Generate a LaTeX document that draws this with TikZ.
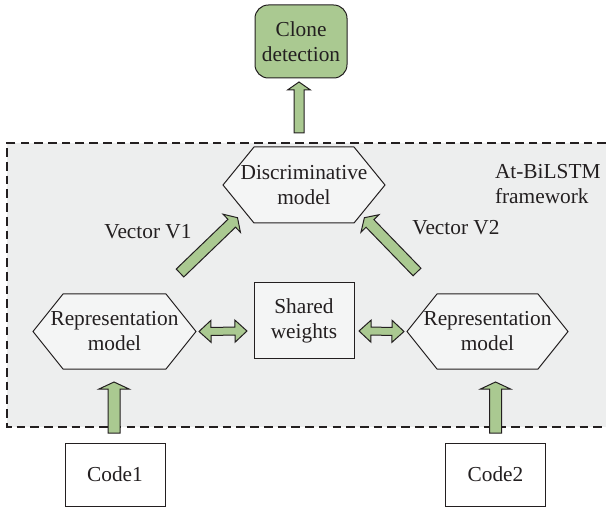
\documentclass[tikz,border=0pt]{standalone}
\usepackage{fontspec}
\setmainfont{Liberation Serif}
\usetikzlibrary{calc,backgrounds}
\definecolor{arrowgreen}{RGB}{170,201,145}
\definecolor{framegray}{RGB}{237,238,238}
\definecolor{boxgray}{RGB}{244,245,245}
\definecolor{inkc}{RGB}{35,31,32}

% start, tip, half shaft, half head, head length
\newcommand{\blockarrow}[5]{%
  \coordinate (ba-h) at ($(#2)!#5!(#1)$);
  \draw[arrowstyle] ($(#1)!#3!90:(#2)$) -- ($(ba-h)!#3!90:(#2)$) -- ($(ba-h)!#4!90:(#2)$) -- (#2)
    -- ($(ba-h)!#4!-90:(#2)$) -- ($(ba-h)!#3!-90:(#2)$) -- ($(#1)!#3!-90:(#2)$) -- cycle;
}
\newcommand{\doublearrow}[5]{%
  \coordinate (da-h1) at ($(#1)!#5!(#2)$);
  \coordinate (da-h2) at ($(#2)!#5!(#1)$);
  \draw[arrowstyle] (#1) -- ($(da-h1)!#4!90:(#2)$) -- ($(da-h1)!#3!90:(#2)$) -- ($(da-h2)!#3!90:(#2)$)
    -- ($(da-h2)!#4!90:(#2)$) -- (#2) -- ($(da-h2)!#4!-90:(#2)$) -- ($(da-h2)!#3!-90:(#2)$)
    -- ($(da-h1)!#3!-90:(#2)$) -- ($(da-h1)!#4!-90:(#2)$) -- cycle;
}
\newcommand{\hexshape}[2]{%
  \path[hexstyle] (#1.west) -- ($(#1.north west)+(#2,0)$) -- ($(#1.north east)+(-#2,0)$) -- (#1.east)
    -- ($(#1.south east)+(-#2,0)$) -- ($(#1.south west)+(#2,0)$) -- cycle;
}

\begin{document}
\begin{tikzpicture}[x=0.75pt,y=-0.75pt,
  font=\rmfamily\fontsize{16pt}{18.75pt}\selectfont, text=inkc,
  arrowstyle/.style={draw=inkc, fill=arrowgreen, line width=0.75pt, line join=miter},
  hexstyle/.style={draw=inkc, fill=boxgray, line width=0.75pt},
  hextext/.style={inner sep=0pt, outer sep=0pt, align=center},
  greenbox/.style={draw=inkc, fill=arrowgreen, rounded corners=10pt, line width=0.75pt,
    minimum width=69pt, minimum height=54.75pt, inner sep=0pt, outer sep=0pt, align=center},
  graybox/.style={draw=inkc, fill=boxgray, line width=0.75pt, minimum width=75pt,
    minimum height=56.25pt, inner sep=0pt, outer sep=0pt, align=center},
  whitebox/.style={draw=inkc, fill=white, line width=0.75pt, minimum width=75pt,
    minimum height=47.25pt, inner sep=0pt, outer sep=0pt, align=center},
  textlabel/.style={inner sep=0pt, outer sep=0pt}]
\useasboundingbox (0,0) rectangle (606,509);

\node[greenbox] (clone) at (301,41.5) {Clone\\detection};
\node[hextext, minimum width=121.5pt, minimum height=57pt] (disc) at (304,185) {Discriminative\\model};
\node[hextext, minimum width=122.25pt, minimum height=56.25pt] (rep1) at (114.5,331.5) {Representation\\model};
\node[hextext, minimum width=120.75pt, minimum height=56.25pt] (rep2) at (487.5,331.5) {Representation\\model};
\node[graybox] (shared) at (304,320.5) {Shared\\weights};
\node[whitebox] (code1) at (115,474.5) {Code1};
\node[whitebox] (code2) at (495.5,474.5) {Code2};
\node[textlabel] (v1) at (148,232) {Vector V1};
\node[textlabel] (v2) at (456,228) {Vector V2};
\node[textlabel, align=left, anchor=west] (fw) at (495,184.5) {At-BiLSTM\\framework};

\begin{scope}[on background layer]
  \fill[framegray] (7,143) rectangle (606,427);
  \draw[inkc, line width=0.9pt, dash pattern=on 6.5pt off 3.8pt] (606,143) -- (7,143) -- (7,427) -- (606,427);
  \hexshape{disc}{31}
  \hexshape{rep1}{30}
  \hexshape{rep2}{30}
\end{scope}

\coordinate (cloneTail) at (299,133);
\coordinate (cloneTip) at ($(clone.south)+(-2,4)$);
\blockarrow{cloneTail}{cloneTip}{3.75pt}{8.6pt}{6pt}

\coordinate (v1tail) at (180,273);
\coordinate (v1tip) at ($(disc.south west)+(14.5,-5.3)$);
\blockarrow{v1tail}{v1tip}{4.1pt}{9.4pt}{6pt}

\coordinate (v2tail) at (417,272);
\coordinate (v2tip) at ($(disc.south east)+(-20.6,-5.3)$);
\blockarrow{v2tail}{v2tip}{4.1pt}{9.4pt}{6pt}

\coordinate (r1tail) at ($(code1.north)+(-1,-10)$);
\coordinate (r1tip) at ($(rep1.south)+(-0.5,13)$);
\blockarrow{r1tail}{r1tip}{4.5pt}{11.25pt}{5.25pt}

\coordinate (r2tail) at ($(code2.north)+(0,-10)$);
\coordinate (r2tip) at ($(rep2.south)+(8,13)$);
\blockarrow{r2tail}{r2tip}{4.5pt}{11.25pt}{5.25pt}

\coordinate (d1a) at ($(rep1.east)+(3,0)$);
\coordinate (d1b) at ($(shared.west)+(-7,10.5)$);
\doublearrow{d1a}{d1b}{3pt}{8.25pt}{9pt}

\coordinate (d2a) at ($(shared.east)+(5,10.5)$);
\coordinate (d2b) at ($(rep2.west)+(-3,0)$);
\doublearrow{d2a}{d2b}{3pt}{8.25pt}{9pt}
\end{tikzpicture}
\end{document}
